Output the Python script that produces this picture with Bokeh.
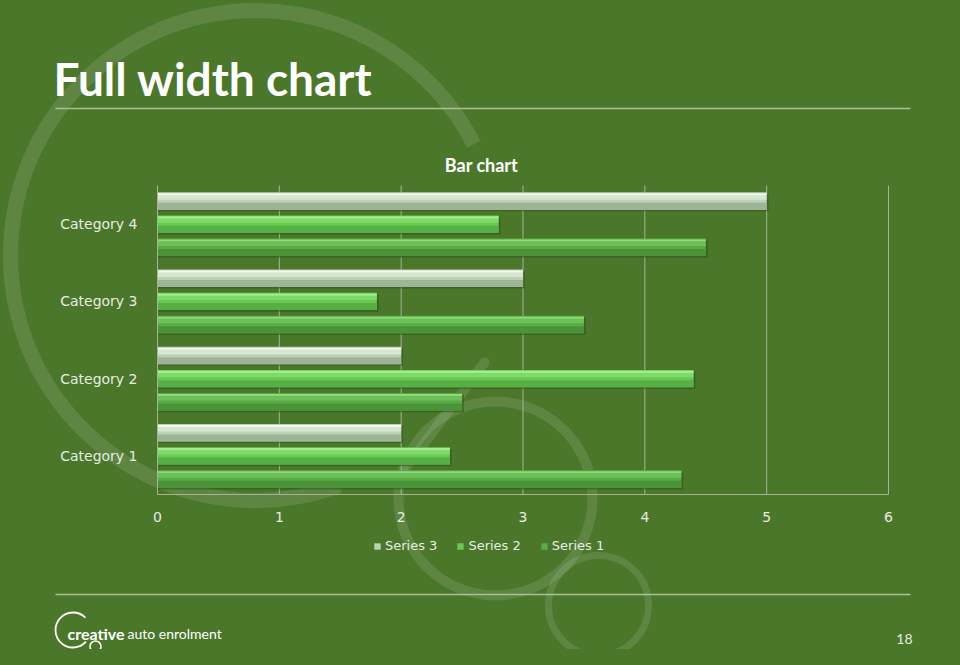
import math
from bokeh.plotting import figure
from bokeh.models import (Range1d, LinearAxis, FixedTicker, Legend, LegendItem,
                          GlobalInlineStyleSheet)
from bokeh.embed import file_html
from bokeh.resources import INLINE
from bokeh.core.properties import value

# ---------------- data ----------------
categories = ["Category 1", "Category 2", "Category 3", "Category 4"]
series_names = ["Series 1", "Series 2", "Series 3"]
series1 = [4.3, 2.5, 3.5, 4.5]
series2 = [2.4, 4.4, 1.8, 2.8]
series3 = [2.0, 2.0, 3.0, 5.0]
x_ticks = [0, 1, 2, 3, 4, 5, 6]
x_tick_labels = ["0", "1", "2", "3", "4", "5", "6"]

page_title = "Full width chart"
chart_title = "Bar chart"
brand_bold = "creative"
brand_light = "auto enrolment"
page_number = "18"

# ---------------- layout (page pixels) ----------------
PAGE_H = 665
OFF = 0
W, H = 944, 649
FL, FR, FT, FB = 157, 888, 185, 494      # chart plot area in page px
XMAX = x_ticks[-1]
NCAT = len(categories)
ux = (FR - FL) / XMAX
uy = (FB - FT) / NCAT
x_start = -(FL - OFF) / ux
x_end = XMAX + (OFF + W - FR) / ux
y_start = -(OFF + H - FB) / uy
y_end = NCAT + (FT - OFF) / uy

BG = "#4b772b"
TXT = "#e6ece2"
GRID = "#a3b398"

def py(y):  # page y -> px-range data y
    return PAGE_H - y

p = figure(width=W, height=H, x_range=Range1d(x_start, x_end),
           y_range=Range1d(y_start, y_end), output_backend="svg",
           toolbar_location=None, x_axis_location=None, y_axis_location=None,
           min_border=0, min_border_left=0, min_border_right=0,
           min_border_top=0, min_border_bottom=0,
           background_fill_color=BG, border_fill_color=BG,
           outline_line_color=None)
p.grid.visible = False
p.extra_x_ranges = {"px": Range1d(OFF, OFF + W)}
p.extra_y_ranges = {"px": Range1d(PAGE_H - (OFF + H), PAGE_H - OFF)}
p.stylesheets = [GlobalInlineStyleSheet(css="body{background-color:%s;}" % BG)]

PX = dict(x_range_name="px", y_range_name="px")

# ---------------- background decoration ----------------
ring = dict(line_color="#ffffff", line_alpha=0.11)
p.arc(x=[255], y=[py(255)], radius=245, start_angle=math.radians(27),
      end_angle=math.radians(290), direction="anticlock", line_width=15, **ring, **PX)
p.circle(x=[495], y=[py(498)], radius=97, fill_color=None, line_width=10, **ring, **PX)
p.circle(x=[598], y=[py(605)], radius=50, fill_color=None, line_width=7, **ring, **PX)
p.segment(x0=[484], y0=[py(362)], x1=[405], y1=[py(468)], line_width=10,
          line_cap="round", **ring, **PX)

# separators
p.segment(x0=[55, 55], y0=[py(108), py(594)], x1=[910, 910], y1=[py(108), py(594)],
          line_color="#a9c199", line_width=1.5, **PX)

# texts
p.text(x=[53], y=[py(78)], text=[page_title], text_font=value("Lato"),
       text_font_style="bold", text_font_size="46px", text_color="#ffffff",
       text_baseline="alphabetic", text_align="left", **PX)
p.text(x=[481], y=[py(164)], text=[chart_title], text_font=value("Lato"),
       text_font_style="bold", text_font_size="18px", text_color="#ffffff",
       text_baseline="alphabetic", text_align="center", **PX)
p.text(x=[67], y=[py(633)], text=[brand_bold], text_font=value("Lato"),
       text_font_style="bold", text_font_size="16px", text_color="#ffffff",
       text_baseline="alphabetic", text_align="left", **PX)
p.text(x=[127], y=[py(633)], text=[brand_light], text_font=value("Lato"),
       text_font_size="14px", text_color="#ffffff",
       text_baseline="alphabetic", text_align="left", **PX)
p.text(x=[912], y=[py(638)], text=[page_number], text_font=value("Lato"),
       text_font_size="14px", text_color=TXT,
       text_baseline="alphabetic", text_align="right", **PX)

# logo circles
p.arc(x=[72.5], y=[py(629.5)], radius=17.5, start_angle=math.radians(45),
      end_angle=math.radians(318), direction="anticlock", line_color="#ffffff",
      line_width=1.8, **PX)
p.circle(x=[95, 100], y=[py(646), py(656)], radius=[5.5, 3.5], fill_color=None,
         line_color="#ffffff", line_width=1.5, **PX)

# ---------------- chart ----------------
# vertical grid lines
gx = x_ticks[1:]
p.segment(x0=gx, y0=[0] * len(gx), x1=gx, y1=[NCAT] * len(gx),
          line_color=GRID, line_width=1)

BAR_H = 0.225
offsets = {"Series 1": -0.3, "Series 2": 0.0, "Series 3": 0.3}
styles = {
    "Series 1": dict(main="#5aab46", top="#8ddb78", mid="#6cc057", bot="#4a9338"),
    "Series 2": dict(main="#69c953", top="#a2ee8d", mid="#80da6a", bot="#56b043"),
    "Series 3": dict(main="#bcd2b5", top="#f3f9f1", mid="#d6e6d0", bot="#9fb398"),
}
values = {"Series 1": series1, "Series 2": series2, "Series 3": series3}
renderers = {}
for name in series_names:
    st = styles[name]
    vals = values[name]
    ys = [i + 0.5 + offsets[name] for i in range(NCAT)]
    # shadow
    p.hbar(y=[y - 0.022 for y in ys], height=BAR_H, left=0,
           right=[v + 0.015 for v in vals], fill_color="#2c5419", fill_alpha=0.55,
           line_color=None)
    r = p.hbar(y=ys, height=BAR_H, left=0, right=vals, fill_color=st["main"],
               line_color=None)
    renderers[name] = r
    p.hbar(y=[y - BAR_H * 0.3 for y in ys], height=BAR_H * 0.4, left=0, right=vals,
           fill_color=st["bot"], line_color=None)
    p.hbar(y=[y + BAR_H * 0.2 for y in ys], height=BAR_H * 0.25, left=0, right=vals,
           fill_color=st["mid"], line_color=None)
    p.hbar(y=[y + BAR_H * 0.39 for y in ys], height=BAR_H * 0.12, left=0, right=vals,
           fill_color=st["top"], line_color=None)

# axes (library axes fixed at the chart edges)
xaxis = LinearAxis(fixed_location=0, ticker=FixedTicker(ticks=x_ticks),
                   major_label_overrides={t: l for t, l in zip(x_ticks, x_tick_labels)},
                   bounds=(0, XMAX))
xaxis.axis_line_color = GRID
xaxis.major_tick_line_color = None
xaxis.minor_tick_line_color = None
xaxis.major_label_text_color = TXT
xaxis.major_label_text_font = "DejaVu Sans"
xaxis.major_label_text_font_size = "14px"
xaxis.major_label_standoff = 11
p.add_layout(xaxis, "below")

cat_ticks = [i + 0.5 for i in range(NCAT)]
yaxis = LinearAxis(fixed_location=0, ticker=FixedTicker(ticks=cat_ticks),
                   major_label_overrides={t: c for t, c in zip(cat_ticks, categories)},
                   bounds=(0, NCAT))
yaxis.axis_line_color = GRID
yaxis.major_tick_line_color = None
yaxis.minor_tick_line_color = None
yaxis.major_label_text_color = TXT
yaxis.major_label_text_font = "DejaVu Sans"
yaxis.major_label_text_font_size = "14px"
yaxis.major_label_standoff = 14
p.add_layout(yaxis, "left")

legend = Legend(items=[LegendItem(label=n, renderers=[renderers[n]])
                       for n in reversed(series_names)],
                orientation="horizontal", location=(373, 96),
                background_fill_alpha=0, border_line_color=None,
                label_text_color=TXT, label_text_font="DejaVu Sans",
                label_text_font_size="13px", glyph_width=8, glyph_height=8,
                label_standoff=4, spacing=19, padding=0, margin=0)
p.add_layout(legend, "center")

open("out.html", "w").write(file_html(p, INLINE))
